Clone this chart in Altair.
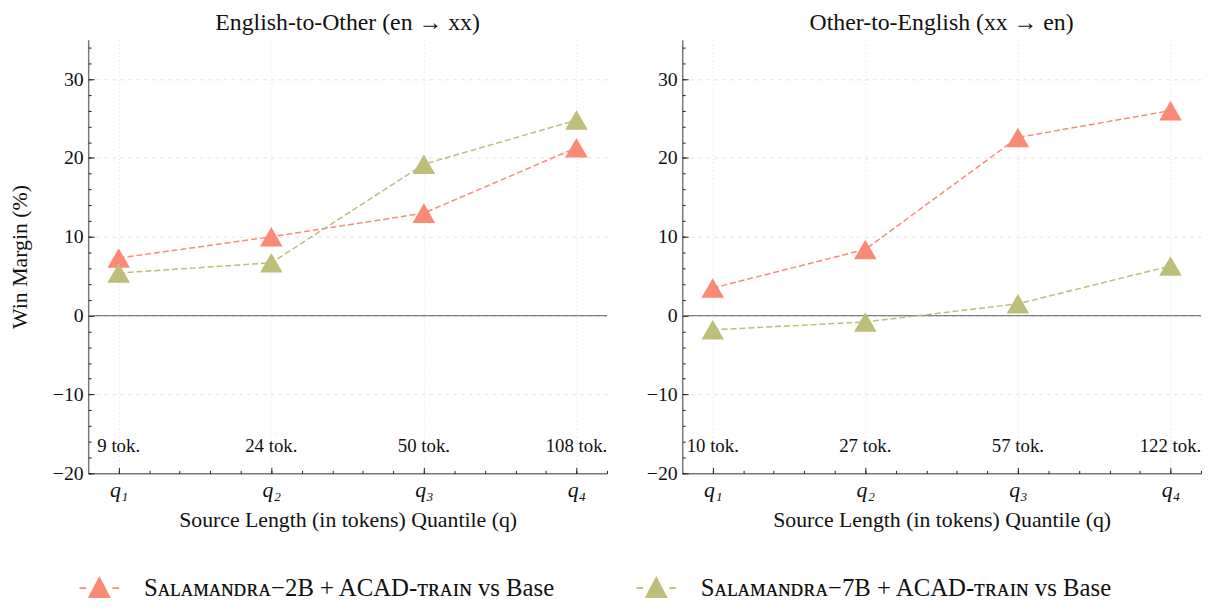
import altair as alt
import pandas as pd

# ---- data ----
quantiles = [1, 2, 3, 4]
series_names = [
    "Sᴀʟᴀᴍᴀɴᴅʀᴀ−2B + ACAD-ᴛʀᴀɪɴ vs Base",
    "Sᴀʟᴀᴍᴀɴᴅʀᴀ−7B + ACAD-ᴛʀᴀɪɴ vs Base",
]
en_xx_2b = [7.3, 10.0, 13.0, 21.3]
en_xx_7b = [5.4, 6.7, 19.2, 24.8]
xx_en_2b = [3.5, 8.4, 22.6, 26.0]
xx_en_7b = [-1.8, -0.8, 1.5, 6.3]
en_xx_tokens = ["9 tok.", "24 tok.", "50 tok.", "108 tok."]
xx_en_tokens = ["10 tok.", "27 tok.", "57 tok.", "122 tok."]
panel_titles = ["English-to-Other (en → xx)", "Other-to-English (xx → en)"]
y_major = [-20, -10, 0, 10, 20, 30]
y_minor = list(range(-20, 35, 2))
x_minor = [round(0.8 + 0.2 * i, 1) for i in range(18)]
colors = ["#FA8A76", "#BCBE79"]

FONT = "Liberation Serif"
W, H = 524, 438
TOKEN_Y = -16.5
AX = "#7a7a7a"

xs = alt.Scale(domain=[0.8, 4.2], nice=False, zero=False)
ys = alt.Scale(domain=[-20, 35], nice=False, zero=False)
cs = alt.Scale(domain=series_names, range=colors)

# legend glyph: dash, triangle, dash (thin filled bars + triangle)
LEG_PATH = ("M-1,-0.04H-0.66V0.04H-1Z"
            "M0.66,-0.04H1V0.04H0.66Z"
            "M0,-0.62L0.58,0.5L-0.58,0.5Z")


def panel(v2b, v7b, tokens, title, ytitle):
    df = pd.DataFrame({
        "q": quantiles * 2,
        "margin": v2b + v7b,
        "series": [series_names[0]] * 4 + [series_names[1]] * 4,
    })
    tok = pd.DataFrame({"q": quantiles, "label": tokens})
    base = alt.Chart(df)

    x_axis = alt.Axis(
        values=quantiles,
        labelExpr="'q' + ['', '₁', '₂', '₃', '₄'][datum.value]",
        title="Source Length (in tokens) Quantile (q)",
        grid=True, gridDash=[1, 3], gridColor="#d8d8d8", gridWidth=0.8,
        ticks=False, domainColor=AX, domainWidth=1.5,
        labelFont=FONT, labelFontSize=22, labelFontStyle="italic",
        labelColor="#111", labelPadding=6,
        titleFont=FONT, titleFontSize=22, titleFontWeight="normal",
        titleColor="#111", titlePadding=10,
    )
    y_axis = alt.Axis(
        values=y_major,
        labelExpr="datum.value < 0 ? '−' + abs(datum.value) : '' + datum.value",
        title=ytitle,
        grid=True, gridDash=[4, 4], gridColor="#dcdcdc", gridWidth=0.8,
        ticks=False, domainColor=AX, domainWidth=1.5,
        labelFont=FONT, labelFontSize=20, labelColor="#111", labelPadding=5,
        titleFont=FONT, titleFontSize=22, titleFontWeight="normal",
        titleColor="#111", titlePadding=21,
    )

    zero = alt.Chart(pd.DataFrame({"y": [0]})).mark_rule(
        color="#808080", strokeWidth=1.5
    ).encode(y=alt.Y("y:Q", scale=ys, axis=y_axis))

    lines = base.mark_line(strokeDash=[6, 3], strokeWidth=1.5).encode(
        x=alt.X("q:Q", scale=xs, axis=x_axis),
        y=alt.Y("margin:Q", scale=ys, axis=None),
        stroke=alt.Stroke("series:N", scale=cs, legend=None),
        detail="series:N",
    )
    points = base.mark_point(
        shape="triangle-up", filled=True, size=520, opacity=1
    ).encode(
        x=alt.X("q:Q", scale=xs, axis=None),
        y=alt.Y("margin:Q", scale=ys, axis=None),
        fill=alt.Fill("series:N", scale=cs, legend=None),
    )
    texts = alt.Chart(tok).mark_text(
        font=FONT, fontSize=19, color="#111", baseline="middle"
    ).encode(
        x=alt.X("q:Q", scale=xs, axis=None),
        y=alt.datum(TOKEN_Y, scale=ys, axis=None),
        text="label:N",
    )
    tick_major = base.mark_point(opacity=0).encode(
        x=alt.X("q:Q", scale=xs, axis=alt.Axis(
            orient="top", offset=-H, values=quantiles, labels=False,
            domain=False, grid=False, ticks=True, tickSize=6,
            tickColor="#222", tickWidth=1, title=None)),
        y=alt.Y("margin:Q", scale=ys, axis=alt.Axis(
            orient="right", offset=-W, values=y_major, labels=False,
            domain=False, grid=False, ticks=True, tickSize=6,
            tickColor="#222", tickWidth=1, title=None)),
    )
    tick_minor = base.mark_point(opacity=0).encode(
        x=alt.X("q:Q", scale=xs, axis=alt.Axis(
            orient="top", offset=-H, values=x_minor, labels=False,
            domain=False, grid=False, ticks=True, tickSize=3,
            tickColor="#222", tickWidth=1, title=None)),
        y=alt.Y("margin:Q", scale=ys, axis=alt.Axis(
            orient="right", offset=-W, values=y_minor, labels=False,
            domain=False, grid=False, ticks=True, tickSize=3,
            tickColor="#222", tickWidth=1, title=None)),
    )
    return alt.layer(zero, lines, points, texts, tick_major, tick_minor).resolve_axis(
        x="independent", y="independent"
    ).properties(
        width=W, height=H,
        title=alt.TitleParams(panel_titles[title],
                              font=FONT, fontSize=24, fontWeight="normal",
                              color="#111", anchor="middle", offset=5),
    )


left = panel(en_xx_2b, en_xx_7b, en_xx_tokens, 0, "Win Margin (%)")
right = panel(xx_en_2b, xx_en_7b, xx_en_tokens, 1, None)

# ---- legend row (drawn from the series list through a point scale) ----
leg_df = pd.DataFrame({"series": series_names})
leg_x = alt.X("series:N", scale=alt.Scale(type="point", domain=series_names,
                                          padding=0.02), axis=None)
leg_sym = alt.Chart(leg_df).mark_point(
    shape=LEG_PATH, size=1600, filled=True, opacity=1
).encode(x=leg_x, y=alt.value(12),
         fill=alt.Fill("series:N", scale=cs, legend=None))
leg_txt = alt.Chart(leg_df).mark_text(
    font=FONT, fontSize=25, color="#111", align="left", baseline="middle", dx=45
).encode(x=leg_x, y=alt.value(12), text="series:N")
legend_row = alt.layer(leg_sym, leg_txt).properties(width=585, height=24)

top = alt.hconcat(left, right, spacing=38)
chart = alt.vconcat(top, legend_row, spacing=45).properties(
    padding={"left": 0, "top": 0, "right": 0, "bottom": 0}
).configure(font=FONT).configure_view(stroke=None)

chart.save("out.html", embed_options={"renderer": "svg", "actions": False})
